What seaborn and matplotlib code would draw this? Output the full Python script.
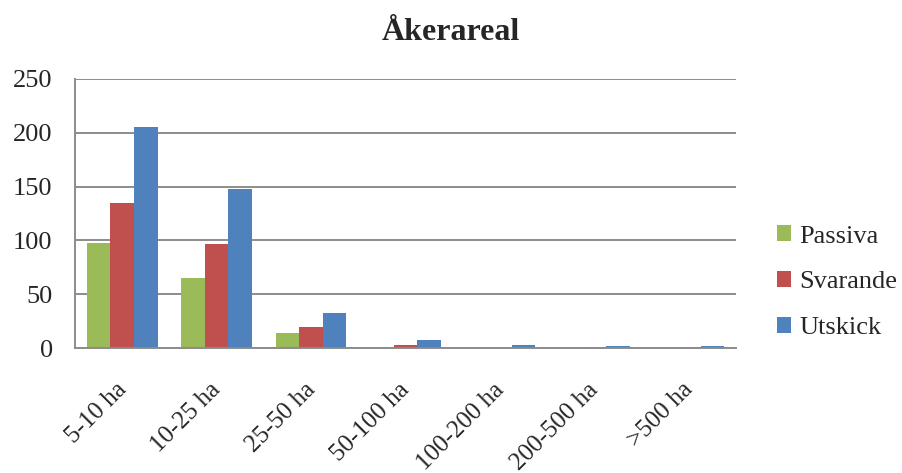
import pandas as pd
import numpy as np
import matplotlib.pyplot as plt
import matplotlib.transforms as mtransforms
import seaborn as sns

kategorier = ['5-10 ha', '10-25 ha', '25-50 ha', '50-100 ha', '100-200 ha', '200-500 ha', '>500 ha']
passiva = [98, 65, 14, 0, 0, 0, 0]
svarande = [135, 97, 20, 3, 0, 1, 1]
utskick = [205, 148, 33, 8, 3, 2, 2]

serier = ['Passiva', 'Svarande', 'Utskick']
farger = ['#9BBB59', '#C0504D', '#4F81BD']

df = pd.DataFrame({
    'Storlek': kategorier * 3,
    'Antal': passiva + svarande + utskick,
    'Serie': np.repeat(serier, len(kategorier)),
})

sns.set_style('white')
plt.rcParams['font.family'] = ['Liberation Serif', 'DejaVu Serif']

fig = plt.figure(figsize=(9.02, 4.73), dpi=100)
ax = fig.add_axes([0.083, 0.264, 0.733, 0.569])

sns.barplot(data=df, x='Storlek', y='Antal', hue='Serie', hue_order=serier,
            palette=farger, ax=ax, width=0.75, saturation=1,
            edgecolor='none', legend=True)

# rutnät
ax.set_ylim(0, 250)
ax.set_yticks(np.arange(0, 251, 50))
ax.yaxis.grid(True, color='#8C8C8C', linewidth=1.4)
ax.set_axisbelow(True)
ax.set_xlim(-0.5, len(kategorier) - 0.5)

for s in ['top', 'right']:
    ax.spines[s].set_visible(False)
for s in ['left', 'bottom']:
    ax.spines[s].set_color('#8C8C8C')
    ax.spines[s].set_linewidth(1.4)

# tickmarkeringar vid kategorigränser
ax.set_xticks(np.arange(-0.5, len(kategorier)), minor=True)
ax.tick_params(axis='x', which='minor', length=6, width=1.4, color='#8C8C8C', direction='out')
ax.tick_params(axis='x', which='major', length=0, pad=22)
ax.tick_params(axis='y', length=6, width=1.4, color='#8C8C8C', labelsize=19, pad=10)
ax.set_xticks(range(len(kategorier)))
ax.set_xticklabels(kategorier, rotation=45, ha='right', rotation_mode='anchor',
                   fontsize=18)
skift = mtransforms.ScaledTranslation(-5 / 72, 0, fig.dpi_scale_trans)
for lbl in ax.get_xticklabels():
    lbl.set_transform(lbl.get_transform() + skift)

ax.set_xlabel('')
ax.set_ylabel('')
fig.text(0.5, 0.932, 'Åkerareal', fontsize=23, fontweight='bold', ha='center', va='center')

handles, labels = ax.get_legend_handles_labels()
ax.legend(handles, labels, loc='center left', bbox_to_anchor=(1.026, 0.245),
          frameon=False, fontsize=19, handlelength=0.55, handleheight=0.55,
          labelspacing=0.89, handletextpad=0.3)

plt.savefig('out.png', dpi=100)
